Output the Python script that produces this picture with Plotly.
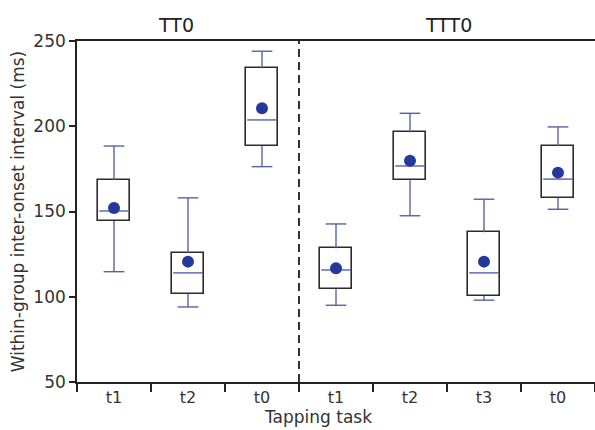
import plotly.graph_objects as go

# ---- data ----
tick_labels = ["t1", "t2", "t0", "t1", "t2", "t3", "t0"]
group_names = ["TT0", "TTT0"]
lower = [114.7, 94.0, 176.3, 95.0, 147.5, 98.0, 151.3]
q1 = [144.4, 101.8, 188.4, 104.4, 168.3, 100.4, 158.0]
median = [150.3, 114.0, 203.7, 115.7, 176.7, 114.0, 169.0]
q3 = [168.5, 125.8, 234.0, 128.4, 196.5, 137.8, 188.4]
upper = [188.4, 158.0, 244.0, 142.7, 207.6, 157.2, 199.6]
means = [152.0, 120.6, 210.5, 116.7, 179.8, 120.6, 172.8]

xs = list(range(len(tick_labels)))
BOX_W = 0.42
CAP = 0.14
MED = 0.2
BLUE = "#5661ab"
DOT = "#24399b"
EDGE = "#2b2b2b"

fig = go.Figure()

# boxes (q1 -> q3)
fig.add_trace(go.Bar(
    x=xs, y=[b - a for a, b in zip(q1, q3)], base=q1, width=BOX_W,
    marker=dict(color="white", line=dict(color=EDGE, width=1.6)),
    showlegend=False, hoverinfo="skip"))

# whiskers
wx, wy = [], []
for x, a, b, lo, hi in zip(xs, q1, q3, lower, upper):
    wx += [x, x, None, x, x, None]
    wy += [hi, b, None, a, lo, None]
fig.add_trace(go.Scatter(x=wx, y=wy, mode="lines",
                         line=dict(color=BLUE, width=1.4),
                         showlegend=False, hoverinfo="skip"))

# caps
cx, cy = [], []
for x, lo, hi in zip(xs, lower, upper):
    cx += [x - CAP, x + CAP, None, x - CAP, x + CAP, None]
    cy += [hi, hi, None, lo, lo, None]
fig.add_trace(go.Scatter(x=cx, y=cy, mode="lines",
                         line=dict(color=BLUE, width=1.4),
                         showlegend=False, hoverinfo="skip"))

# medians
mx, my = [], []
for x, m in zip(xs, median):
    mx += [x - MED, x + MED, None]
    my += [m, m, None]
fig.add_trace(go.Scatter(x=mx, y=my, mode="lines",
                         line=dict(color=BLUE, width=1.4),
                         showlegend=False, hoverinfo="skip"))

# means
fig.add_trace(go.Scatter(x=xs, y=means, mode="markers",
                         marker=dict(color=DOT, size=12),
                         showlegend=False, hoverinfo="skip"))

# dashed separator between groups
fig.add_shape(type="line", xref="x", yref="paper", x0=2.5, x1=2.5, y0=0, y1=1,
              line=dict(color="black", width=1.6, dash="8px,5px"))

# group titles
for name, xc in zip(group_names, [0.84, 4.52]):
    fig.add_annotation(x=xc, y=1.0, xref="x", yref="paper", yanchor="bottom",
                       yshift=3, text=name, showarrow=False,
                       font=dict(size=19, color="#222"))

# x-axis title
fig.add_annotation(x=0.465, y=0, xref="paper", yref="paper", yanchor="top",
                   yshift=-23, text="Tapping task", showarrow=False,
                   font=dict(size=17, color="#333"))

fig.update_layout(
    width=595, height=430,
    margin=dict(l=77, r=0, t=41, b=48),
    plot_bgcolor="white", paper_bgcolor="white",
    font=dict(family="DejaVu Sans", size=16, color="#333"),
    bargap=0,
)
fig.update_xaxes(
    range=[-0.5, 6.5], tickvals=xs, ticktext=tick_labels, ticks="",
    showline=True, linecolor="#222", linewidth=1.6, mirror=True,
    showgrid=False, zeroline=False, automargin=False,
    minor=dict(tickvals=[i - 0.5 for i in range(len(xs) + 1)], ticks="outside",
               ticklen=8, tickcolor="#222", tickwidth=1.6, showgrid=False),
    tickfont=dict(size=16),
)
fig.update_yaxes(
    range=[50, 250], tickvals=[50, 100, 150, 200, 250],
    ticks="outside", ticklen=6, tickcolor="#222", tickwidth=1.6,
    showline=True, linecolor="#222", linewidth=1.6,
    showgrid=False, zeroline=False, automargin=False,
    title=dict(text="Within-group inter-onset interval (ms)", standoff=4,
               font=dict(size=17)),
    tickfont=dict(size=17),
)

fig.write_html("out.html", config={"displayModeBar": False},
               post_script="document.body.style.margin='0';")
